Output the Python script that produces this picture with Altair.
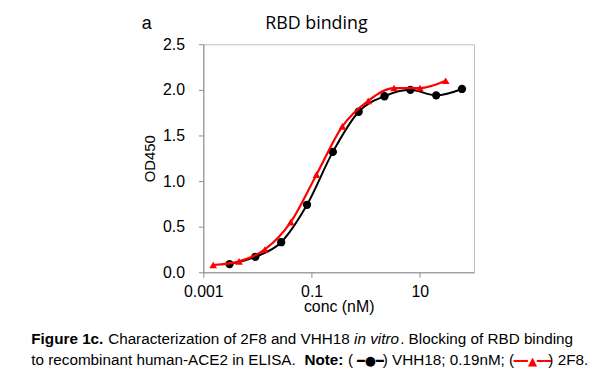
import altair as alt
import pandas as pd

# VHH18 (black circles)
vhh_conc = [60, 20, 6.67, 2.22, 0.741, 0.247, 0.0823, 0.0274, 0.00914, 0.00305]
vhh_od = [2.01, 1.94, 2.00, 1.93, 1.76, 1.32, 0.74, 0.33, 0.17, 0.09]
# 2F8 (red triangles)
f28_conc = [30, 10, 3.33, 1.11, 0.370, 0.123, 0.0412, 0.0137, 0.00457, 0.00152]
f28_od = [2.10, 2.02, 2.02, 1.88, 1.60, 1.07, 0.55, 0.25, 0.12, 0.08]

x_ticks = [0.001, 0.1, 10]
y_ticks = [0.0, 0.5, 1.0, 1.5, 2.0, 2.5]

vhh = pd.DataFrame({"conc": vhh_conc, "od": vhh_od})
f28 = pd.DataFrame({"conc": f28_conc, "od": f28_od})

AX = "#8c8c8c"
x_enc = alt.X("conc:Q",
              scale=alt.Scale(type="log", domain=[0.001, 100], nice=False),
              axis=alt.Axis(values=x_ticks, format="~g", title="conc (nM)",
                            grid=False, labelFlush=False, domainColor=AX,
                            tickColor=AX, tickSize=5, labelPadding=6,
                            titlePadding=0, labelFontSize=16, titleFontSize=16))
y_enc = alt.Y("od:Q",
              scale=alt.Scale(domain=[0, 2.5], nice=False),
              axis=alt.Axis(values=y_ticks, format=".1f", title="OD450",
                            grid=False, domainColor=AX, tickColor=AX,
                            tickSize=5, labelPadding=14, titlePadding=5,
                            labelFontSize=16, titleFontSize=15))

black_line = alt.Chart(vhh).mark_line(color="black", strokeWidth=2,
                                      interpolate="monotone").encode(x=x_enc, y=y_enc)
black_pts = alt.Chart(vhh).mark_point(shape="circle", filled=True, color="black",
                                      size=70, opacity=1).encode(x=x_enc, y=y_enc)
red_line = alt.Chart(f28).mark_line(color="#ff0000", strokeWidth=2.2,
                                    interpolate="monotone").encode(x=x_enc, y=y_enc)
red_pts = alt.Chart(f28).mark_point(shape="triangle-up", filled=True, color="#ff0000",
                                    size=60, opacity=1).encode(x=x_enc, y=y_enc)

one = pd.DataFrame({"k": [0]})
CAP = "Liberation Sans"
CS = 15.4


def txt(s, x, y, size=CS, font=CAP, weight="normal", style="normal",
        color="black", align="left"):
    return alt.Chart(one).mark_text(text=s, font=font, fontSize=size,
                                    fontWeight=weight, fontStyle=style,
                                    color=color, align=align,
                                    baseline="alphabetic").encode(
        x=alt.value(x), y=alt.value(y))


L = 205
T = 43
y1 = 345 - T
y2 = 367 - T
texts = [
    txt("RBD binding", 319 - L, 28 - T, size=18, font="Open Sans", align="center"),
    txt("a", 143 - L, 28 - T, size=18, font="Liberation Sans"),
    txt("Figure 1c.", 31.5 - L, y1, weight="bold"),
    txt("Characterization of 2F8 and VHH18", 109 - L, y1),
    txt("in vitro", 357 - L, y1, style="italic"),
    txt(". Blocking of RBD binding", 403.5 - L, y1),
    txt("to recombinant human-ACE2 in ELISA.", 31.5 - L, y2),
    txt("Note:", 307 - L, y2, weight="bold"),
    txt("(", 351 - L, y2),
    txt("\u2501\u25cf\u2501", 360 - L, y2 - 1, size=13, font="DejaVu Sans"),
    txt(") VHH18; 0.19nM; (", 386 - L, y2),
    txt("\u2501\u2501\u25b2\u2501\u2501", 518 - L, y2 - 1, size=12, font="DejaVu Sans",
        color="#ff0000"),
    txt(") 2F8.", 553 - L, y2),
]

chart = alt.layer(black_line, black_pts, red_line, red_pts, *texts).properties(
    width=273, height=230,
    autosize=alt.AutoSizeParams(type="none"),
    padding={"left": 197, "top": 35, "right": 118, "bottom": 100},
).configure_view(stroke="#bfbfbf", strokeWidth=1).configure_axis(
    labelFont="Liberation Sans", titleFont="Liberation Sans",
    labelColor="black", titleColor="black", titleFontWeight="normal",
)

chart.save("out.html", embed_options={"renderer": "svg", "actions": False})
